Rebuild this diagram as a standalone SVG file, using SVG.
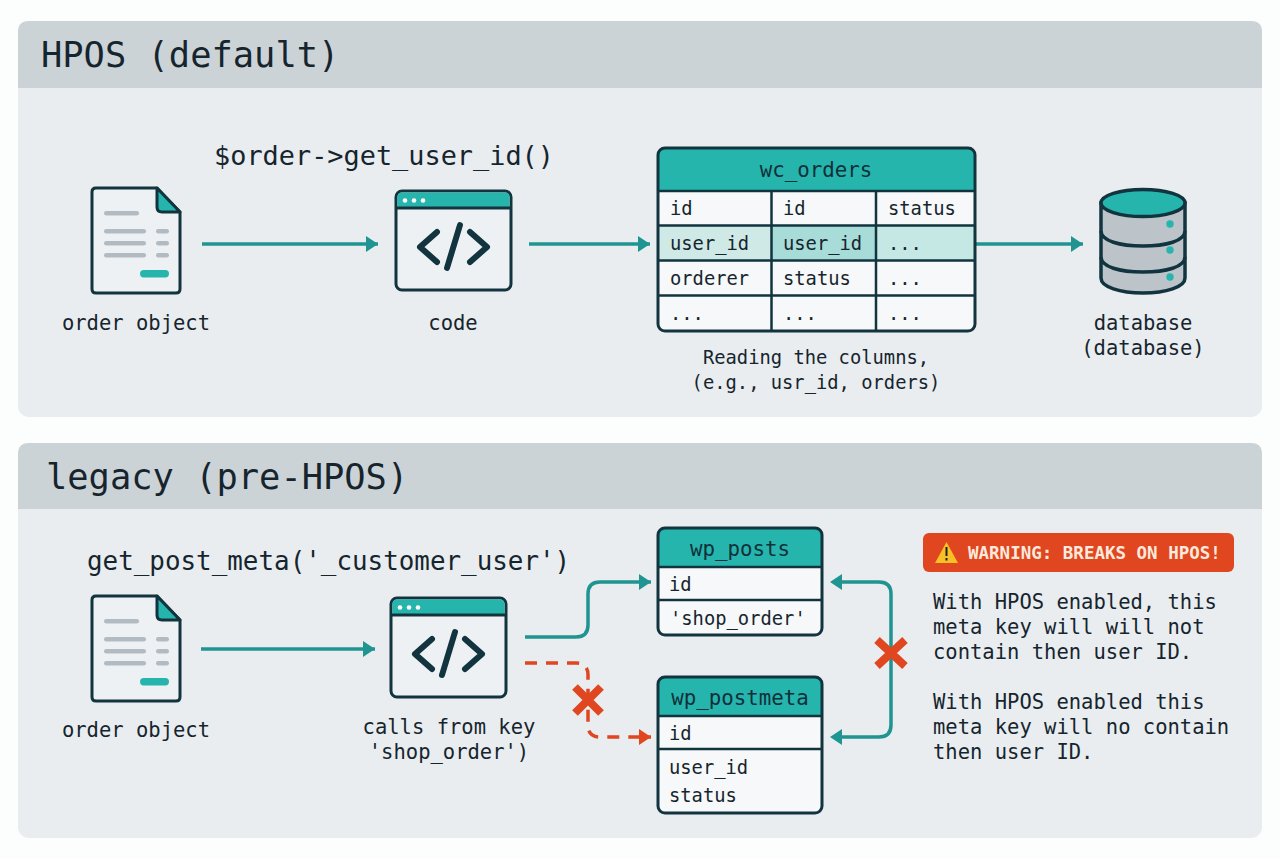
<svg xmlns="http://www.w3.org/2000/svg" width="1280" height="859" viewBox="0 0 1280 859">
<style>
text{font-family:"DejaVu Sans Mono","Liberation Mono",monospace;fill:#16252d}
.title{font-size:35.400px}
.lab{font-size:20.500px}
.mid{text-anchor:middle}
.cell{font-size:18.800px}
.head{font-size:20.800px;text-anchor:middle;fill:#10303a}
.outline{fill:none;stroke:#12343f;stroke-width:3;stroke-linejoin:round}
.thin{fill:none;stroke:#12343f;stroke-width:2.500}
.bar{fill:#b2bbc1}
.teal{fill:#26b5ad}
.flow{fill:none;stroke:#1f9490;stroke-width:3.500}
.bad{fill:none;stroke:#e0461f;stroke-width:3.500;stroke-dasharray:12 9}
.x{stroke:#e0461f;stroke-width:8;fill:none}
.code{fill:none;stroke:#12343f;stroke-width:6;stroke-linecap:round;stroke-linejoin:round}
</style>
<defs>
<marker id="ah" viewBox="0 0 12 16" refX="12" refY="8" markerWidth="12" markerHeight="16" markerUnits="userSpaceOnUse" orient="auto"><path d="M0 0L12 8L0 16Z" fill="#1f9490"/></marker>
<marker id="ar" viewBox="0 0 12 16" refX="12" refY="8" markerWidth="12" markerHeight="16" markerUnits="userSpaceOnUse" orient="auto"><path d="M0 0L12 8L0 16Z" fill="#e0461f"/></marker>
<g id="docicon">
<path d="M4 0H65L88 24V101Q88 105 84 105H4Q0 105 0 101V4Q0 0 4 0Z" class="outline" style="fill:#eef1f3"/>
<path d="M65 0L88 24H70Q65 24 65 19Z" class="teal" stroke="#12343f" stroke-width="3" stroke-linejoin="round"/>
<rect class="bar" x="12" y="23" width="35" height="4.500" rx="2.200"/>
<rect class="bar" x="12" y="41" width="42" height="4.500" rx="2.200"/>
<rect class="bar" x="12" y="53" width="42" height="4.500" rx="2.200"/>
<rect class="bar" x="12" y="65" width="42" height="4.500" rx="2.200"/>
<rect class="bar" x="64" y="41" width="13" height="4.500" rx="2.200"/>
<rect class="bar" x="64" y="53" width="13" height="4.500" rx="2.200"/>
<rect class="bar" x="64" y="65" width="13" height="4.500" rx="2.200"/>
<rect class="teal" x="48" y="82" width="29" height="7.500" rx="3.700"/>
</g>
<g id="win">
<rect x="0" y="0" width="115" height="99" rx="6" fill="#eef1f3" stroke="#12343f" stroke-width="3"/>
<path d="M1.500 17V6Q1.500 1.500 6 1.500H109Q113.500 1.500 113.500 6V17Z" class="teal"/>
<path d="M0 17H115" class="thin" style="stroke-width:3"/>
<circle cx="9" cy="9.500" r="2.300" fill="#fff"/><circle cx="18" cy="9.500" r="2.300" fill="#fff"/><circle cx="27" cy="9.500" r="2.300" fill="#fff"/>
<path class="code" d="M41 41L24 56L41 71"/><path class="code" d="M74 41L91 56L74 71"/><path class="code" d="M64 34L51 77"/>
</g>
</defs>
<rect width="1280" height="859" fill="#fcfdfd"/>

<g id="panel-hpos">
<rect x="18" y="21" width="1244" height="396" rx="11" fill="#e9edf0"/>
<path d="M18 88V32Q18 21 29 21H1251Q1262 21 1262 32V88Z" fill="#ccd3d7"/>
<text class="title" x="41" y="67">HPOS (default)</text>
<text x="214" y="165" font-size="26.900">$order-&gt;get_user_id()</text>
</g>
<g id="panel-legacy">
<rect x="18" y="443" width="1244" height="395" rx="11" fill="#e9edf0"/>
<path d="M18 509V454Q18 443 29 443H1251Q1262 443 1262 454V509Z" fill="#ccd3d7"/>
<text class="title" x="46" y="489">legacy (pre-HPOS)</text>
<text x="87" y="570" font-size="25.900">get_post_meta('_customer_user')</text>
</g>

<g id="connectors">
<path class="flow" d="M202 244H378" marker-end="url(#ah)"/>
<path class="flow" d="M529 244H650" marker-end="url(#ah)"/>
<path class="flow" d="M975 244H1083" marker-end="url(#ah)"/>
<path class="flow" d="M201 649H375" marker-end="url(#ah)"/>
<path class="flow" d="M525 637H576Q588 637 588 625V594Q588 582 600 582H651" marker-end="url(#ah)"/>
<path class="bad" d="M525 663H576Q588 663 588 675V725Q588 737 600 737H640"/>
<path d="M640 737H651" stroke="#e0461f" stroke-width="3.500" marker-end="url(#ar)"/>
<path class="flow" d="M835 582H879Q891 582 891 594V725Q891 737 879 737H835"/>
<path d="M842 574L830 582L842 590Z" fill="#1f9490"/>
<path d="M842 729L830 737L842 745Z" fill="#1f9490"/>
<path class="x" d="M575 687L601 713M601 687L575 713"/>
<path class="x" d="M877 640L905 666M905 640L877 666"/>
</g>

<g id="hpos-order"><use href="#docicon" x="92" y="188"/><text class="lab mid" x="136" y="330">order object</text></g>
<g id="hpos-code"><use href="#win" x="396" y="191"/><text class="lab mid" x="453" y="330">code</text></g>

<g id="wc-orders">
<rect x="658" y="148" width="317" height="183" rx="7" fill="#f6f8f9"/>
<rect x="658" y="226" width="114" height="35" fill="#cfe9e7"/>
<rect x="772" y="226" width="104" height="35" fill="#a8dcd8"/>
<rect x="876" y="226" width="99" height="35" fill="#c5e8e5"/>
<path d="M658 191V155Q658 148 665 148H968Q975 148 975 155V191Z" class="teal"/>
<rect x="658" y="148" width="317" height="183" rx="7" class="outline"/>
<path class="thin" d="M658 191H975M658 225.500H975M658 260.500H975M658 295.500H975M771.500 191V331M876 191V331"/>
<text class="head" x="816" y="177">wc_orders</text>
<text class="cell" x="670" y="215">id</text><text class="cell" x="783" y="215">id</text><text class="cell" x="888" y="215">status</text>
<text class="cell" x="670" y="250">user_id</text><text class="cell" x="783" y="250">user_id</text><text class="cell" x="888" y="250">...</text>
<text class="cell" x="670" y="285">orderer</text><text class="cell" x="783" y="285">status</text><text class="cell" x="888" y="285">...</text>
<text class="cell" x="670" y="320">...</text><text class="cell" x="783" y="320">...</text><text class="cell" x="888" y="320">...</text>
<text class="mid" font-size="18.800" x="816" y="364">Reading the columns,</text>
<text class="mid" font-size="18.800" x="816" y="389">(e.g., usr_id, orders)</text>
</g>

<g id="database">
<path d="M1101 203V278C1101 287 1120 293 1143 293S1185 287 1185 278V203Z" fill="#bcc4c9" stroke="#12343f" stroke-width="3.500"/>
<ellipse cx="1143" cy="203" rx="42" ry="13.500" class="teal" stroke="#12343f" stroke-width="3.500"/>
<path d="M1101 231C1101 241 1120 246 1143 246S1185 241 1185 231" fill="none" stroke="#12343f" stroke-width="3.500"/>
<path d="M1101 257C1101 267 1120 272 1143 272S1185 267 1185 257" fill="none" stroke="#12343f" stroke-width="3.500"/>
<circle cx="1170" cy="224" r="3.700" class="teal"/><circle cx="1170" cy="250" r="3.700" class="teal"/><circle cx="1170" cy="277" r="3.700" class="teal"/>
<text class="lab mid" x="1143" y="330">database</text>
<text class="lab mid" x="1143" y="355">(database)</text>
</g>

<g id="legacy-order"><use href="#docicon" x="92" y="596"/><text class="lab mid" x="136" y="737">order object</text></g>
<g id="legacy-code"><use href="#win" x="391" y="598"/>
<text class="lab mid" x="449" y="734">calls from key</text>
<text class="lab mid" x="449" y="759">'shop_order')</text></g>

<g id="wp-posts">
<rect x="658" y="528" width="164" height="107" rx="7" fill="#f6f8f9"/>
<path d="M658 567V535Q658 528 665 528H815Q822 528 822 535V567Z" class="teal"/>
<rect x="658" y="528" width="164" height="107" rx="7" class="outline"/>
<path class="thin" d="M658 567H822M658 600H822"/>
<text class="head" x="740" y="556">wp_posts</text>
<text class="cell" x="669" y="591">id</text>
<text class="cell" x="670" y="625">'shop_order'</text>
</g>
<g id="wp-postmeta">
<rect x="658" y="677" width="164" height="136" rx="7" fill="#f6f8f9"/>
<path d="M658 716V684Q658 677 665 677H815Q822 677 822 684V716Z" class="teal"/>
<rect x="658" y="677" width="164" height="136" rx="7" class="outline"/>
<path class="thin" d="M658 716H822M658 749H822"/>
<text class="head" x="740" y="705">wp_postmeta</text>
<text class="cell" x="669" y="740">id</text>
<text class="cell" x="669" y="774">user_id</text>
<text class="cell" x="669" y="802">status</text>
</g>

<g id="warning">
<rect x="923" y="533" width="311" height="39" rx="6" fill="#e0461f"/>
<path d="M946.500 542L958 563H935Z" fill="#f6c026"/>
<path d="M946.500 547V556M946.500 558V560.500" stroke="#222" stroke-width="2"/>
<text x="968" y="559" font-size="17.500" font-weight="bold" style="fill:#fbe9dd">WARNING: BREAKS ON HPOS!</text>
</g>
<g id="note">
<text class="lab" x="933" y="609">With HPOS enabled, this</text>
<text class="lab" x="933" y="634">meta key will will not</text>
<text class="lab" x="933" y="659">contain then user ID.</text>
<text class="lab" x="933" y="709">With HPOS enabled this</text>
<text class="lab" x="933" y="734">meta key will no contain</text>
<text class="lab" x="933" y="759">then user ID.</text>
</g>
</svg>
